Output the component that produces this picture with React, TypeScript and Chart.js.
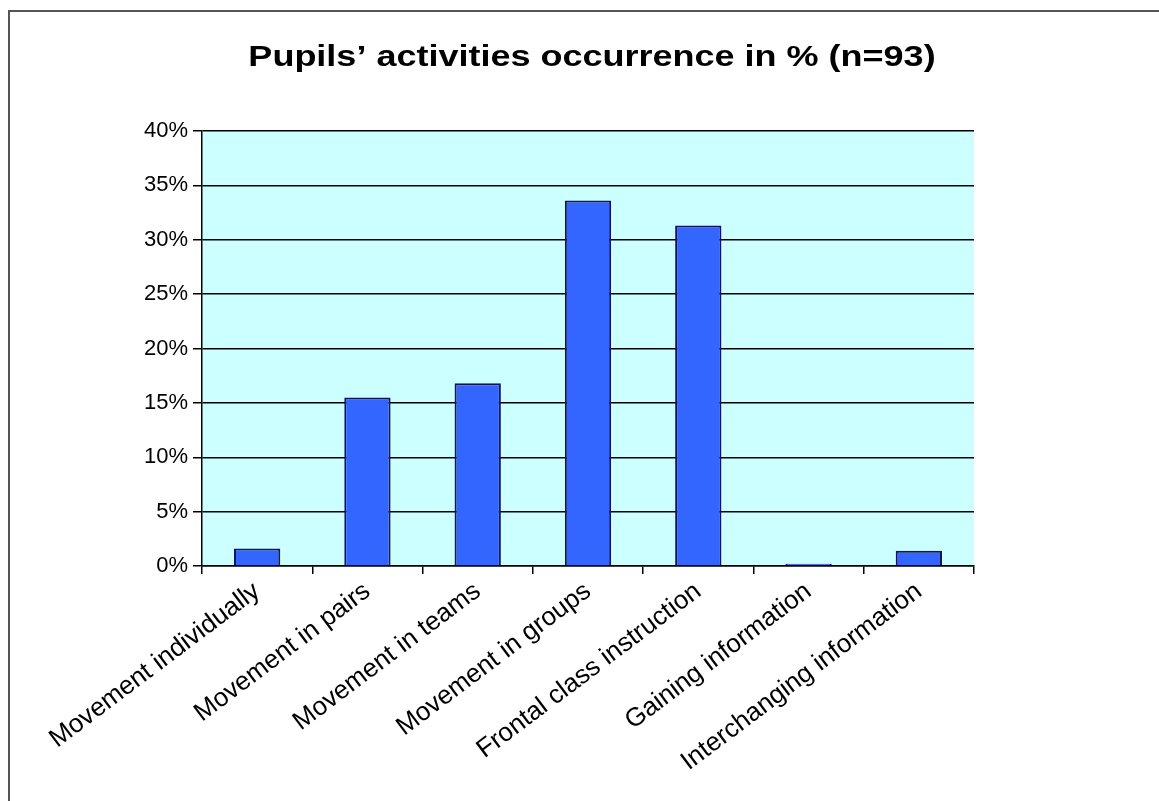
import React, { useEffect, useRef } from "react";
import { Chart, registerables } from "chart.js";

Chart.register(...registerables);

const categories = [
  "Movement individually",
  "Movement in pairs",
  "Movement in teams",
  "Movement in groups",
  "Frontal class instruction",
  "Gaining information",
  "Interchanging information",
];
const occurrence = [1.6, 15.5, 16.8, 33.6, 31.3, 0.2, 1.4];
const yTicks = [0, 5, 10, 15, 20, 25, 30, 35, 40];
const titleText = "Pupils\u2019 activities occurrence in % (n=93)";

const plotBg = {
  id: "plotBg",
  beforeDraw(chart: any) {
    const { ctx, chartArea } = chart;
    ctx.save();
    ctx.fillStyle = "#CCFFFF";
    ctx.fillRect(chartArea.left, chartArea.top, chartArea.right - chartArea.left, chartArea.bottom - chartArea.top);
    ctx.restore();
  },
};

const stretchedTitle = {
  id: "stretchedTitle",
  afterDraw(chart: any) {
    const { ctx } = chart;
    ctx.save();
    ctx.translate(592, 58);
    ctx.scale(1.2, 1);
    ctx.font = "bold 30px 'Liberation Sans', Arial, sans-serif";
    ctx.fillStyle = "#000";
    ctx.textAlign = "center";
    ctx.textBaseline = "middle";
    ctx.fillText(titleText, 0, 0);
    ctx.restore();
  },
};

export default function App() {
  const ref = useRef<HTMLCanvasElement>(null);
  useEffect(() => {
    if (!ref.current) return;
    const chart = new Chart(ref.current, {
      type: "bar",
      data: {
        labels: categories,
        datasets: [
          {
            data: occurrence,
            backgroundColor: "#3366FF",
            borderColor: "#14145A",
            borderWidth: 2,
            categoryPercentage: 1,
            barPercentage: 0.42,
          },
        ],
      },
      options: {
        responsive: false,
        animation: false,
        layout: { padding: { left: 0, right: 185, top: 131, bottom: 0 } },
        plugins: {
          legend: { display: false },
          tooltip: { enabled: false },
          title: { display: false },
        },
        scales: {
          x: {
            offset: true,
            grid: { offset: true, drawOnChartArea: false, drawTicks: true, tickLength: 8, color: "#000", lineWidth: 1.5 },
            border: { color: "#000", width: 1.5 },
            ticks: {
              autoSkip: false,
              minRotation: 37,
              maxRotation: 37,
              color: "#000",
              font: { family: "Liberation Sans, Arial, sans-serif", size: 26 },
              padding: 2,
            },
            afterFit(scale: any) {
              scale.height = 801 - 566;
            },
          },
          y: {
            min: 0,
            max: 40,
            afterBuildTicks(scale: any) {
              scale.ticks = yTicks.map((v) => ({ value: v }));
            },
            grid: { color: "#000", lineWidth: 1.5, tickLength: 9 },
            border: { color: "#000", width: 1.5 },
            ticks: {
              color: "#000",
              font: { family: "Liberation Sans, Arial, sans-serif", size: 22 },
              padding: 5,
              callback: (v: any) => v + "%",
            },
            afterFit(scale: any) {
              scale.width = 202;
            },
          },
        },
      },
      plugins: [plotBg, stretchedTitle],
    });
    return () => chart.destroy();
  }, []);
  return (
    <div style={{ position: "absolute", left: 0, top: 0, width: 1159, height: 801, background: "#fff" }}>
      <canvas ref={ref} width={1159} height={801} style={{ position: "absolute", left: 0, top: 0 }} />
      <div
        style={{
          position: "absolute",
          left: 8,
          top: 10,
          width: 1151,
          height: 791,
          borderLeft: "2px solid #555",
          borderTop: "2px solid #555",
          pointerEvents: "none",
        }}
      />
    </div>
  );
}
